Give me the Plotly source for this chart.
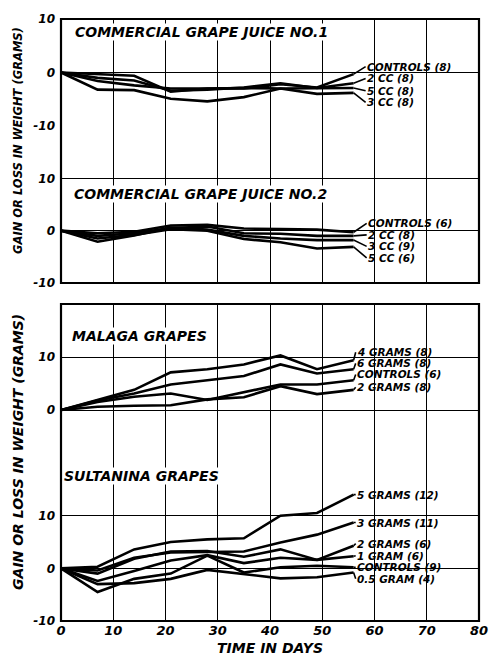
import plotly.graph_objects as go
from plotly.subplots import make_subplots

# ---------------- data ----------------
days = [0, 7, 14, 21, 28, 35, 42, 49, 56]

juice1_names = ["CONTROLS (8)", "2 CC (8)", "5 CC (8)", "3 CC (8)"]
juice1_controls = [0, -0.3, -0.6, -3.6, -3.0, -3.0, -2.2, -2.8, -0.3]
juice1_2cc = [0, -1.0, -1.5, -3.4, -3.2, -2.8, -2.0, -2.9, -2.0]
juice1_5cc = [0, -1.6, -2.4, -3.0, -3.0, -2.9, -3.0, -3.0, -2.9]
juice1_3cc = [0, -3.2, -3.3, -4.9, -5.4, -4.6, -3.0, -4.0, -3.8]

juice2_names = ["CONTROLS (6)", "2 CC (8)", "3 CC (9)", "5 CC (6)"]
juice2_controls = [0, -0.5, -0.2, 1.0, 1.1, 0.4, 0.3, 0.2, -0.3]
juice2_2cc = [0, -1.0, -0.5, 0.5, 0.8, -0.5, -0.6, -1.0, -1.0]
juice2_3cc = [0, -2.1, -0.9, 0.6, 0.2, -1.0, -1.5, -1.8, -1.8]
juice2_5cc = [0, -1.5, -0.8, 0.3, 0.0, -1.6, -2.2, -3.4, -3.1]

malaga_names = ["4 GRAMS (8)", "6 GRAMS (8)", "CONTROLS (6)", "2 GRAMS (8)"]
malaga_4g = [0, 1.9, 3.8, 7.1, 7.7, 8.6, 10.3, 7.7, 9.4]
malaga_6g = [0, 1.8, 3.1, 4.8, 5.6, 6.4, 8.6, 6.9, 7.7]
malaga_controls = [0, 1.5, 2.5, 3.1, 1.9, 3.3, 4.8, 4.8, 5.6]
malaga_2g = [0, 0.6, 0.8, 0.9, 2.0, 2.4, 4.5, 3.0, 3.8]

sult_names = ["5 GRAMS (12)", "3 GRAMS (11)", "2 GRAMS (6)", "1 GRAM (6)",
              "CONTROLS (9)", "0.5 GRAM (4)"]
sult_5g = [0, 0.3, 3.6, 5.0, 5.5, 5.7, 10.0, 10.5, 14.0]
sult_3g = [0, -0.4, 2.0, 3.0, 3.1, 3.2, 4.9, 6.4, 8.7]
sult_2g = [0, -1.0, 1.8, 3.2, 3.3, 2.2, 3.6, 1.6, 4.3]
sult_1g = [0, -2.4, -0.5, 1.5, 2.5, 1.0, 2.0, 1.6, 2.3]
sult_controls = [0, -4.5, -2.0, -1.0, 2.4, -0.8, 0.2, 0.5, 0.2]
sult_05g = [0, -3.0, -2.8, -2.0, -0.3, -1.1, -1.9, -1.7, -0.8]

x_ticks = [0, 10, 20, 30, 40, 50, 60, 70, 80]
panel_titles = ["COMMERCIAL GRAPE JUICE NO.1", "COMMERCIAL GRAPE JUICE NO.2",
                "MALAGA GRAPES", "SULTANINA GRAPES"]

# ---------------- layout helpers ----------------
panels = [
    (juice1_names, [juice1_controls, juice1_2cc, juice1_5cc, juice1_3cc]),
    (juice2_names, [juice2_controls, juice2_2cc, juice2_3cc, juice2_5cc]),
    (malaga_names, [malaga_4g, malaga_6g, malaga_controls, malaga_2g]),
    (sult_names, [sult_5g, sult_3g, sult_2g, sult_1g, sult_controls, sult_05g]),
]
# label placement (vertical position of each label text, in panel units)
label_pos = [
    [1.1, -1.1, -3.4, -5.6],
    [1.4, -0.8, -3.0, -5.2],
    [10.9, 8.8, 6.7, 4.3],
    [14.0, 8.7, 4.7, 2.4, 0.2, -2.0],
]
label_x = [58.3, 58.5, 56.4, 56.4]
title_pos = [(2.5, 7.5), (2.2, 7.0), (2.0, 14.0), (0.3, 17.5)]

fig = make_subplots(rows=4, cols=1, shared_xaxes=True, vertical_spacing=0)

W, H = 493, 656
ml, mr, mt, mb = 61, 5, 19, 35
ph = H - mt - mb


def frac(py):
    return (H - mb - py) / ph


domains = [
    [frac(126), 1.0],
    [frac(283), frac(126)],
    [frac(463), frac(304)],
    [0.0, frac(463)],
]
ranges = [[-10, 10], [-10, 20], [-10, 20], [-10, 20]]
tickvals = [[-10, 0, 10], [-10, 0, 10], [-10, 0, 10], [-10, 0, 10]]
ticktexts = [["-10", "0", "10"], ["-10", "0", "10"], ["", "0", "10"], ["-10", "0", "10"]]

FONT = "DejaVu Sans"
for i, (names, series) in enumerate(panels):
    r = i + 1
    for name, ys in zip(names, series):
        fig.add_trace(go.Scatter(x=days, y=ys, mode="lines", name=name,
                                 line=dict(color="black", width=2.6),
                                 showlegend=False, hoverinfo="skip"),
                      row=r, col=1)
    yaxis_name = "y" if r == 1 else f"y{r}"
    xaxis_name = "x" if r == 1 else f"x{r}"
    for name, ys, ly in zip(names, series, label_pos[i]):
        fig.add_annotation(
            x=days[-1], y=ys[-1], xref=xaxis_name, yref=yaxis_name,
            ax=label_x[i], ay=ly, axref=xaxis_name, ayref=yaxis_name,
            text=name, showarrow=True, arrowhead=0, arrowwidth=1.6,
            arrowcolor="black", xanchor="left", yanchor="middle",
            borderpad=0,
            font=dict(family=FONT, size=10.5, color="black",
                      weight="bold", style="italic"))
    tx, ty = title_pos[i]
    fig.add_annotation(x=tx, y=ty, xref=xaxis_name, yref=yaxis_name,
                       text=panel_titles[i], showarrow=False,
                       xanchor="left", yanchor="middle", bgcolor="white",
                       borderpad=0,
                       font=dict(family=FONT, size=14, color="black",
                                 weight="bold", style="italic"))
    fig.update_yaxes(row=r, col=1, domain=domains[i], range=ranges[i],
                     tickvals=tickvals[i], ticktext=ticktexts[i],
                     showgrid=True, gridcolor="black", gridwidth=1.4,
                     zeroline=False, showline=False, ticks="",
                     ticklabelstandoff=5,
                     tickfont=dict(family=FONT, size=12, color="black",
                                   weight="bold", style="italic"))
    fig.update_xaxes(row=r, col=1, range=[0, 80], tickvals=x_ticks,
                     showgrid=True, gridcolor="black", gridwidth=1.4,
                     zeroline=False, showline=False, ticks="",
                     showticklabels=(r == 4), ticklabeloverflow="allow",
                     tickfont=dict(family=FONT, size=13, color="black",
                                   weight="bold", style="italic"))

# boxes around the two groups
for y0, y1 in [(domains[1][0], 1.0), (0.0, domains[2][1])]:
    fig.add_shape(type="rect", xref="paper", yref="paper", x0=0, x1=1,
                  y0=y0, y1=y1, line=dict(color="black", width=2.2))

axis_font = dict(family=FONT, size=11.5, color="black", weight="bold", style="italic")
xl = (17 - ml) / (W - ml - mr)
fig.add_annotation(x=xl, y=frac(140), xref="paper", yref="paper",
                   text="GAIN OR LOSS IN WEIGHT (GRAMS)", textangle=-90,
                   xanchor="center", yanchor="middle",
                   showarrow=False, font=axis_font)
fig.add_annotation(x=xl, y=frac(452), xref="paper", yref="paper",
                   text="GAIN OR LOSS IN WEIGHT (GRAMS)", textangle=-90,
                   xanchor="center", yanchor="middle",
                   showarrow=False, font=dict(axis_font, size=14))
fig.add_annotation(x=0.5, y=frac(648), xref="paper", yref="paper",
                   text="TIME IN DAYS", showarrow=False,
                   xanchor="center", yanchor="middle",
                   font=dict(axis_font, size=14))

fig.update_layout(width=W, height=H, margin=dict(l=ml, r=mr, t=mt, b=mb),
                  plot_bgcolor="white", paper_bgcolor="white",
                  showlegend=False)

fig.write_html("out.html", config={"displayModeBar": False},
               post_script="document.body.style.margin='0px';"
                           "document.body.style.overflow='hidden';")
